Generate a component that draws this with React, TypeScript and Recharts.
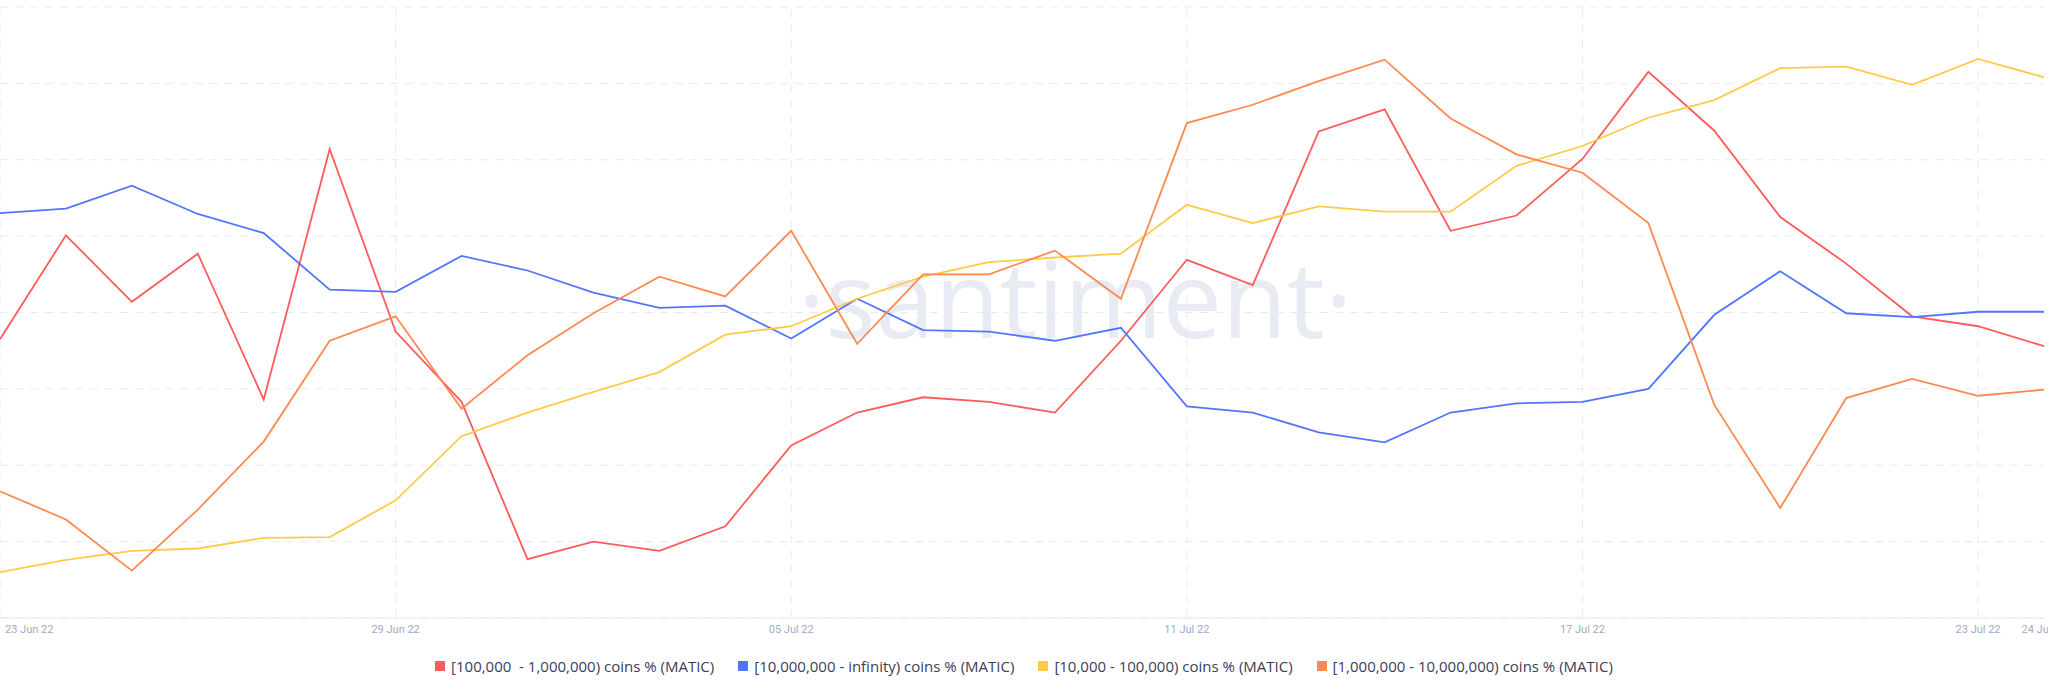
import { LineChart, Line, XAxis, YAxis, CartesianGrid, ReferenceLine } from 'recharts';

const dates = [
  '23 Jun 22', '24 Jun 22', '25 Jun 22', '26 Jun 22', '27 Jun 22', '28 Jun 22', '29 Jun 22', '30 Jun 22',
  '01 Jul 22', '02 Jul 22', '03 Jul 22', '04 Jul 22', '05 Jul 22', '06 Jul 22', '07 Jul 22', '08 Jul 22',
  '09 Jul 22', '10 Jul 22', '11 Jul 22', '12 Jul 22', '13 Jul 22', '14 Jul 22', '15 Jul 22', '16 Jul 22',
  '17 Jul 22', '18 Jul 22', '19 Jul 22', '20 Jul 22', '21 Jul 22', '22 Jul 22', '23 Jul 22', '24 Jul 22',
];

const tickDates = ['23 Jun 22', '29 Jun 22', '05 Jul 22', '11 Jul 22', '17 Jul 22', '23 Jul 22', '24 Jul 22'];
const gridDates = ['23 Jun 22', '29 Jun 22', '05 Jul 22', '11 Jul 22', '17 Jul 22', '23 Jul 22'];
const yTicks = [0, 10, 20, 30, 40, 50, 60, 70, 80];

// holders share, relative units
const coins100kTo1m = [
  36.5, 50.1, 41.4, 47.7, 28.6, 61.4, 37.5, 28.3, 7.7, 10.0, 8.8, 12.0, 22.6, 26.9, 28.9, 28.3,
  26.9, 36.3, 46.9, 43.6, 63.7, 66.6, 50.7, 52.7, 60.1, 71.5, 63.8, 52.5, 46.4, 39.5, 38.2, 35.6,
];
const coins10mPlus = [
  53.0, 53.6, 56.6, 52.9, 50.4, 43.0, 42.7, 47.4, 45.5, 42.6, 40.6, 40.9, 36.6, 41.8, 37.7, 37.5,
  36.3, 38.0, 27.7, 26.9, 24.3, 23.0, 26.9, 28.1, 28.3, 30.0, 39.7, 45.4, 39.9, 39.4, 40.1, 40.1,
];
const coins10kTo100k = [
  6.0, 7.6, 8.8, 9.1, 10.5, 10.6, 15.4, 23.8, 26.9, 29.6, 32.2, 37.1, 38.2, 41.8, 44.7, 46.6,
  47.2, 47.7, 54.1, 51.7, 53.9, 53.2, 53.2, 59.2, 61.8, 65.5, 67.8, 72.0, 72.2, 69.8, 73.2, 70.8,
];
const coins1mTo10m = [
  16.6, 12.9, 6.2, 14.2, 23.1, 36.3, 39.5, 27.4, 34.4, 39.9, 44.7, 42.1, 50.7, 35.9, 45.0, 45.0,
  48.1, 41.8, 64.8, 67.2, 70.3, 73.1, 65.4, 60.7, 58.3, 51.7, 27.9, 14.4, 28.8, 31.3, 29.1, 29.9,
];

const series = [
  { key: 'c100k', name: '[100,000  - 1,000,000) coins % (MATIC)', color: '#ff5b5b', values: coins100kTo1m },
  { key: 'c10m', name: '[10,000,000 - infinity) coins % (MATIC)', color: '#5275ff', values: coins10mPlus },
  { key: 'c10k', name: '[10,000 - 100,000) coins % (MATIC)', color: '#ffcb47', values: coins10kTo100k },
  { key: 'c1m', name: '[1,000,000 - 10,000,000) coins % (MATIC)', color: '#ff8950', values: coins1mTo10m },
];

const data = dates.map((date, i) => {
  const row: Record<string, string | number> = { date };
  series.forEach((s) => {
    row[s.key] = s.values[i];
  });
  return row;
});

const AxisTick = (props: any) => {
  const { x, y, payload } = props;
  const first = payload.value === tickDates[0];
  return (
    <text
      x={first ? x + 5 : x}
      y={y}
      dy={7}
      textAnchor={first ? 'start' : 'middle'}
      fill="#9faac4"
      fontSize={11}
      fontFamily="Roboto, sans-serif"
    >
      {payload.value}
    </text>
  );
};

export default function App() {
  return (
    <div style={{ position: 'absolute', left: 0, top: 0, width: 2048, height: 693, background: '#fff' }}>
      <svg width={2048} height={693} style={{ position: 'absolute', left: 0, top: 0 }}>
        <text
          x={1075}
          y={338}
          textAnchor="middle"
          fill="#e8ebf4"
          fontSize={106}
          fontFamily="'Open Sans', sans-serif"
        >
          ·santiment·
        </text>
      </svg>
      <div style={{ position: 'absolute', left: 0, top: 0 }}>
        <LineChart width={2048} height={693} data={data} margin={{ top: 7, right: 4, left: 0, bottom: 0 }}>
          <CartesianGrid vertical={false} stroke="#e7eaf3" strokeDasharray="8 7" />
          {gridDates.map((d) => (
            <ReferenceLine key={d} x={d} stroke="#e7eaf3" strokeDasharray="8 7" />
          ))}
          <XAxis
            dataKey="date"
            ticks={tickDates}
            interval={0}
            height={75}
            tickLine={false}
            axisLine={{ stroke: '#e7eaf3' }}
            tick={<AxisTick />}
          />
          <YAxis hide domain={[0, 80]} ticks={yTicks} />
          {series.map((s) => (
            <Line
              key={s.key}
              dataKey={s.key}
              name={s.name}
              stroke={s.color}
              strokeWidth={1.8}
              dot={false}
              type="linear"
              isAnimationActive={false}
            />
          ))}
        </LineChart>
      </div>
      <div
        style={{
          position: 'absolute',
          left: 0,
          top: 656,
          width: 2048,
          display: 'flex',
          justifyContent: 'center',
          fontFamily: "'Open Sans', sans-serif",
          fontSize: 15,
          color: '#3a4058',
        }}
      >
        {series.map((s) => (
          <div key={s.key} style={{ display: 'flex', alignItems: 'center', margin: '0 12px', whiteSpace: 'pre' }}>
            <span style={{ width: 10, height: 10, background: s.color, marginRight: 6, display: 'inline-block' }} />
            <span>{s.name}</span>
          </div>
        ))}
      </div>
    </div>
  );
}
